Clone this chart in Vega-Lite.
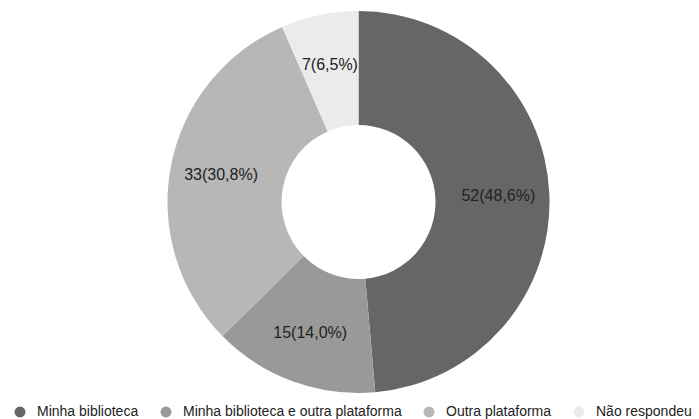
{
  "$schema": "https://vega.github.io/schema/vega-lite/v6.json",
  "width": 681,
  "height": 404,
  "autosize": {"type": "none"},
  "padding": {"left": 18, "top": 0, "right": 0, "bottom": 15},
  "background": "white",
  "config": {"view": {"stroke": null}, "font": "Liberation Sans"},
  "data": {
    "values": [
      {"categoria": "Minha biblioteca", "n": 52, "ordem": 1, "rotulo": "52(48,6%)"},
      {"categoria": "Minha biblioteca e outra plataforma", "n": 15, "ordem": 2, "rotulo": "15(14,0%)"},
      {"categoria": "Outra plataforma", "n": 33, "ordem": 3, "rotulo": "33(30,8%)"},
      {"categoria": "Não respondeu", "n": 7, "ordem": 4, "rotulo": "7(6,5%)"}
    ]
  },
  "encoding": {
    "theta": {"field": "n", "type": "quantitative", "stack": true},
    "order": {"field": "ordem", "type": "quantitative"},
    "color": {
      "field": "categoria",
      "type": "nominal",
      "scale": {
        "domain": ["Minha biblioteca", "Minha biblioteca e outra plataforma", "Outra plataforma", "Não respondeu"],
        "range": ["#666666", "#999999", "#b7b7b7", "#ebebeb"]
      },
      "legend": {
        "title": null,
        "orient": "none",
        "direction": "horizontal",
        "legendX": -5,
        "legendY": 405,
        "symbolType": "circle",
        "symbolSize": 120,
        "symbolStrokeWidth": 0,
        "labelFontSize": 14,
        "labelColor": "#222222",
        "labelOffset": 10,
        "columnPadding": 20,
        "labelFont": "Liberation Sans",
        "labelLimit": 400
      }
    }
  },
  "layer": [
    {"mark": {"type": "arc", "outerRadius": 191, "innerRadius": 77}},
    {
      "mark": {"type": "text", "radius": 140, "fontSize": 16, "font": "Liberation Sans", "fill": "#222222"},
      "encoding": {
        "text": {"field": "rotulo", "type": "nominal"},
        "color": {"value": "#222222"}
      }
    }
  ]
}
